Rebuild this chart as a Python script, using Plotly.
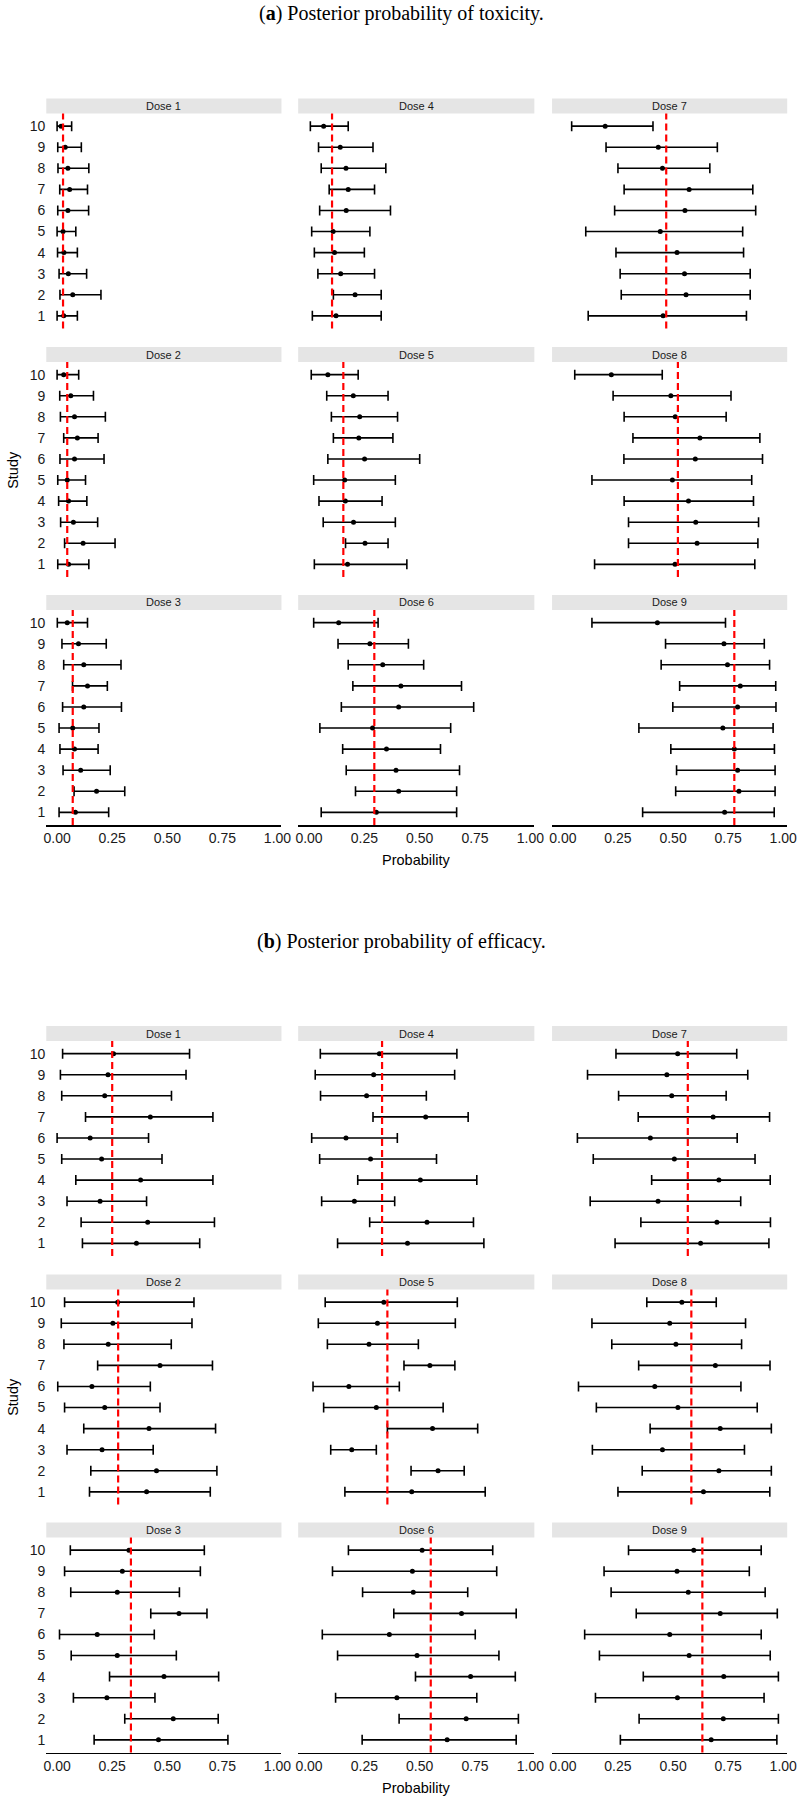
import plotly.graph_objects as go

W, H = 810, 1800

studies = list(range(1, 11))
dose_labels = [f"Dose {i}" for i in range(1, 10)]
x_tick_vals = [0, 0.25, 0.5, 0.75, 1.0]
x_tick_text = ["0.00", "0.25", "0.50", "0.75", "1.00"]

# ---------------- (a) toxicity: per dose, studies 1..10 ----------------
tox_est = [
    [0.030, 0.071, 0.051, 0.031, 0.027, 0.049, 0.057, 0.049, 0.037, 0.018],
    [0.052, 0.118, 0.074, 0.052, 0.046, 0.079, 0.092, 0.079, 0.062, 0.030],
    [0.083, 0.179, 0.107, 0.079, 0.071, 0.121, 0.138, 0.121, 0.097, 0.046],
    [0.122, 0.208, 0.143, 0.115, 0.109, 0.168, 0.177, 0.167, 0.141, 0.066],
    [0.174, 0.253, 0.201, 0.164, 0.161, 0.251, 0.225, 0.229, 0.200, 0.085],
    [0.304, 0.405, 0.393, 0.350, 0.287, 0.405, 0.415, 0.333, 0.275, 0.134],
    [0.455, 0.559, 0.552, 0.518, 0.442, 0.554, 0.573, 0.452, 0.433, 0.192],
    [0.509, 0.609, 0.603, 0.570, 0.497, 0.601, 0.622, 0.510, 0.490, 0.220],
    [0.734, 0.799, 0.793, 0.778, 0.726, 0.793, 0.805, 0.747, 0.731, 0.429],
]
tox_lower = [
    [0.000, 0.013, 0.009, 0.002, 0.000, 0.003, 0.012, 0.004, 0.003, 0.000],
    [0.003, 0.034, 0.016, 0.007, 0.003, 0.013, 0.030, 0.015, 0.012, 0.000],
    [0.009, 0.077, 0.027, 0.013, 0.009, 0.025, 0.070, 0.030, 0.022, 0.001],
    [0.015, 0.110, 0.040, 0.024, 0.012, 0.048, 0.091, 0.055, 0.043, 0.006],
    [0.024, 0.165, 0.064, 0.045, 0.021, 0.085, 0.110, 0.101, 0.080, 0.010],
    [0.055, 0.210, 0.168, 0.152, 0.049, 0.146, 0.198, 0.177, 0.131, 0.021],
    [0.115, 0.265, 0.260, 0.241, 0.104, 0.235, 0.278, 0.250, 0.196, 0.040],
    [0.144, 0.298, 0.298, 0.278, 0.132, 0.277, 0.318, 0.278, 0.228, 0.054],
    [0.362, 0.512, 0.516, 0.490, 0.345, 0.499, 0.530, 0.446, 0.466, 0.132],
]
tox_upper = [
    [0.092, 0.199, 0.134, 0.092, 0.085, 0.143, 0.138, 0.144, 0.110, 0.066],
    [0.144, 0.263, 0.184, 0.135, 0.129, 0.213, 0.186, 0.219, 0.165, 0.098],
    [0.234, 0.307, 0.241, 0.186, 0.190, 0.292, 0.228, 0.290, 0.223, 0.138],
    [0.326, 0.326, 0.296, 0.250, 0.275, 0.368, 0.296, 0.347, 0.289, 0.177],
    [0.442, 0.357, 0.390, 0.330, 0.390, 0.500, 0.379, 0.400, 0.357, 0.222],
    [0.667, 0.667, 0.680, 0.594, 0.640, 0.744, 0.689, 0.518, 0.449, 0.312],
    [0.833, 0.850, 0.850, 0.820, 0.816, 0.875, 0.862, 0.667, 0.701, 0.409],
    [0.871, 0.885, 0.888, 0.865, 0.857, 0.906, 0.894, 0.741, 0.763, 0.451],
    [0.959, 0.963, 0.963, 0.960, 0.954, 0.967, 0.966, 0.938, 0.914, 0.738],
]
tox_ref = [0.027, 0.046, 0.071, 0.104, 0.155, 0.295, 0.469, 0.522, 0.778]

# ---------------- (b) efficacy: per dose, studies 1..10 ----------------
eff_est = [
    [0.360, 0.411, 0.195, 0.379, 0.202, 0.150, 0.423, 0.216, 0.231, 0.256],
    [0.406, 0.451, 0.204, 0.417, 0.216, 0.158, 0.467, 0.232, 0.253, 0.275],
    [0.460, 0.527, 0.226, 0.485, 0.273, 0.182, 0.553, 0.273, 0.296, 0.326],
    [0.445, 0.533, 0.205, 0.503, 0.278, 0.167, 0.527, 0.260, 0.292, 0.318],
    [0.464, 0.583, 0.193, 0.558, 0.304, 0.180, 0.546, 0.271, 0.309, 0.338],
    [0.624, 0.710, 0.397, 0.730, 0.488, 0.363, 0.689, 0.471, 0.467, 0.511],
    [0.625, 0.699, 0.432, 0.708, 0.506, 0.397, 0.682, 0.494, 0.472, 0.521],
    [0.638, 0.708, 0.452, 0.714, 0.522, 0.417, 0.692, 0.513, 0.485, 0.540],
    [0.673, 0.728, 0.520, 0.730, 0.573, 0.485, 0.714, 0.569, 0.518, 0.594],
]
eff_lower = [
    [0.115, 0.109, 0.045, 0.085, 0.021, 0.000, 0.129, 0.021, 0.015, 0.025],
    [0.147, 0.153, 0.045, 0.121, 0.034, 0.003, 0.184, 0.031, 0.019, 0.034],
    [0.168, 0.307, 0.074, 0.238, 0.064, 0.011, 0.425, 0.062, 0.034, 0.060],
    [0.129, 0.274, 0.057, 0.220, 0.048, 0.012, 0.289, 0.052, 0.028, 0.051],
    [0.162, 0.461, 0.098, 0.354, 0.066, 0.018, 0.429, 0.083, 0.042, 0.073],
    [0.240, 0.407, 0.120, 0.481, 0.129, 0.060, 0.383, 0.242, 0.106, 0.178],
    [0.237, 0.354, 0.124, 0.403, 0.138, 0.066, 0.342, 0.253, 0.112, 0.241],
    [0.250, 0.360, 0.134, 0.396, 0.152, 0.071, 0.344, 0.222, 0.132, 0.381],
    [0.261, 0.346, 0.148, 0.365, 0.166, 0.099, 0.333, 0.219, 0.187, 0.298],
]
eff_upper = [
    [0.647, 0.714, 0.406, 0.707, 0.476, 0.415, 0.707, 0.519, 0.585, 0.601],
    [0.695, 0.725, 0.436, 0.719, 0.467, 0.423, 0.705, 0.518, 0.612, 0.621],
    [0.775, 0.731, 0.444, 0.733, 0.541, 0.441, 0.680, 0.555, 0.650, 0.668],
    [0.790, 0.743, 0.387, 0.758, 0.576, 0.399, 0.719, 0.530, 0.658, 0.668],
    [0.796, 0.701, 0.304, 0.762, 0.606, 0.408, 0.659, 0.494, 0.661, 0.670],
    [0.936, 0.946, 0.758, 0.932, 0.858, 0.751, 0.936, 0.717, 0.848, 0.830],
    [0.935, 0.942, 0.807, 0.941, 0.872, 0.791, 0.938, 0.741, 0.839, 0.789],
    [0.939, 0.946, 0.824, 0.946, 0.882, 0.808, 0.940, 0.811, 0.829, 0.696],
    [0.971, 0.978, 0.913, 0.978, 0.941, 0.900, 0.973, 0.918, 0.846, 0.900],
]
eff_ref = [0.250, 0.277, 0.335, 0.330, 0.354, 0.550, 0.567, 0.583, 0.633]

section_titles = ["(<b>a</b>) Posterior probability of toxicity.",
                  "(<b>b</b>) Posterior probability of efficacy."]

# ---------------- layout geometry (pixels) ----------------
col_px = [(44, 283), (300, 540), (558, 797)]
row_tops = [113.5, 362, 610]
section_offsets = [0, 927.5]
panel_h = 215
strip_h = 15
title_y = [13, 941]
ylabel_y = [470, 1397]
xlabel_y = [860, 1788]

SANS = "Liberation Sans, Arial, sans-serif"
SERIF = "Liberation Serif, Times New Roman, serif"


def py(px):
    return 1 - px / H


fig = go.Figure()
layout = {}
shapes = []
annotations = []

sections = [
    (tox_est, tox_lower, tox_upper, tox_ref),
    (eff_est, eff_lower, eff_upper, eff_ref),
]

ax = 0
for s, (est, lo, hi, ref) in enumerate(sections):
    for d in range(9):
        ax += 1
        c, r = d // 3, d % 3
        x0, x1 = col_px[c]
        top = section_offsets[s] + row_tops[r]
        bot = top + panel_h
        xa = "x" if ax == 1 else f"x{ax}"
        ya = "y" if ax == 1 else f"y{ax}"
        xkey = "xaxis" if ax == 1 else f"xaxis{ax}"
        ykey = "yaxis" if ax == 1 else f"yaxis{ax}"

        e = est[d]
        plus = [h - v for h, v in zip(hi[d], e)]
        minus = [v - l for v, l in zip(e, lo[d])]
        fig.add_trace(go.Scatter(
            x=e, y=studies, mode="markers",
            marker=dict(color="black", size=5),
            error_x=dict(type="data", symmetric=False, array=plus, arrayminus=minus,
                         color="black", thickness=1.6, width=5),
            xaxis=xa, yaxis=ya, showlegend=False, hoverinfo="skip",
        ))

        bottom_row = (r == 2)
        layout[xkey] = dict(
            domain=[x0 / W, x1 / W], anchor=ya, range=[-0.049, 1.018],
            showgrid=False, zeroline=False, tickvals=x_tick_vals, ticktext=x_tick_text,
            showticklabels=bottom_row, showline=bottom_row, linecolor="black", linewidth=1.6,
            ticks="", tickfont=dict(family=SANS, size=14, color="#1a1a1a"), fixedrange=True,
        )
        layout[ykey] = dict(
            domain=[py(bot), py(top)], anchor=xa, range=[0.4, 10.6],
            tickvals=studies, ticktext=[str(v) for v in studies],
            showticklabels=(c == 0), showgrid=False, zeroline=False, showline=False,
            ticks="", tickfont=dict(family=SANS, size=14, color="#1a1a1a"), fixedrange=True,
        )

        # strip
        shapes.append(dict(type="rect", xref="paper", yref="paper",
                           x0=x0 / W, x1=x1 / W, y0=py(top), y1=py(top - strip_h),
                           fillcolor="#e5e5e5", line=dict(width=0), layer="below"))
        annotations.append(dict(text=dose_labels[d], xref="paper", yref="paper",
                                x=(x0 + x1) / 2 / W, y=py(top - strip_h / 2),
                                xanchor="center", yanchor="middle", showarrow=False,
                                font=dict(family=SANS, size=11, color="#1a1a1a")))
        # reference line
        shapes.append(dict(type="line", xref=xa, yref=f"{ya} domain",
                           x0=ref[d], x1=ref[d], y0=0, y1=1,
                           line=dict(color="red", width=2.2, dash="7px,4px")))

    # section title
    annotations.append(dict(text=section_titles[s], xref="paper", yref="paper",
                            x=0.5, y=py(title_y[s]), xanchor="center", yanchor="middle",
                            showarrow=False, font=dict(family=SERIF, size=20, color="black")))
    # axis titles
    annotations.append(dict(text="Study", xref="paper", yref="paper",
                            x=10 / W, y=py(ylabel_y[s]), xanchor="center", yanchor="middle",
                            textangle=-90, showarrow=False,
                            font=dict(family=SANS, size=14.5, color="black")))
    annotations.append(dict(text="Probability", xref="paper", yref="paper",
                            x=(col_px[1][0] + col_px[1][1]) / 2 / W, y=py(xlabel_y[s]),
                            xanchor="center", yanchor="middle", showarrow=False,
                            font=dict(family=SANS, size=14.5, color="black")))

fig.update_layout(
    width=W, height=H, margin=dict(l=0, r=0, t=0, b=0),
    paper_bgcolor="white", plot_bgcolor="white",
    shapes=shapes, annotations=annotations, showlegend=False,
    **layout,
)

fig.write_html(
    "out.html",
    config={"displayModeBar": False, "staticPlot": True},
    post_script="document.body.style.margin='0';document.body.style.overflow='hidden';",
)
